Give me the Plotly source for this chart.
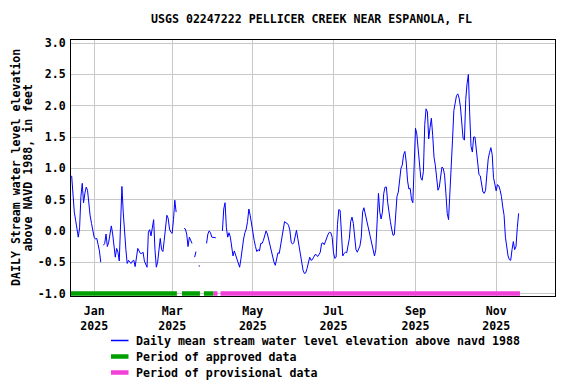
import datetime as dt
import plotly.graph_objects as go

# ---------------- data ----------------
start_date = dt.date(2024, 12, 15)
# daily mean stream water level elevation (ft above NAVD 1988); None = no data
values = [
    # Dec 15 - Dec 31 2024
    0.88, 0.55, 0.30, 0.17, 0.00, -0.10, 0.05, 0.55, 0.76, 0.45, 0.60, 0.70, 0.65, 0.42, 0.24, 0.12, 0.03,
    # Jan 2025
    -0.10, -0.13, -0.12, -0.22, -0.32, -0.50, None, -0.23, -0.20, -0.05, -0.25, -0.18, 0.00, 0.08, -0.05,
    -0.30, -0.42, -0.28, -0.34, -0.48, 0.20, 0.71, 0.30, -0.10, -0.30, -0.52, -0.47, -0.50, -0.52, -0.48,
    -0.47,
    # Feb
    -0.57, -0.40, -0.28, -0.32, -0.36, -0.36, -0.34, -0.48, -0.55, -0.58, -0.02, 0.02, -0.08, 0.10, 0.18,
    -0.30, -0.58, -0.50, -0.30, -0.12, -0.30, -0.33, -0.15, 0.12, 0.25, 0.20, 0.03, -0.02,
    # Mar
    -0.04, 0.18, 0.49, 0.30, None, None, None, None, None, 0.04, 0.03, -0.05, -0.25, -0.10, -0.16, -0.20,
    None, -0.42, -0.33, None, -0.56, -0.56, None, None, None, None, -0.20, -0.05, 0.00, -0.03, -0.10,
    # Apr
    -0.10, -0.11, -0.11, None, None, None, None, 0.00, 0.35, 0.45, 0.05, -0.10, -0.03, -0.10, -0.25,
    -0.40, -0.32, -0.38, -0.47, -0.53, -0.58, -0.45, -0.26, -0.13, -0.03, 0.03, 0.15, 0.35, 0.25, 0.10,
    # May
    -0.06, -0.15, -0.25, -0.33, -0.30, -0.32, -0.20, -0.20, -0.15, -0.05, 0.00, -0.05, -0.15, -0.25,
    -0.31, -0.45, -0.50, -0.55, -0.45, -0.35, -0.36, -0.24, -0.12, 0.04, 0.15, 0.13, 0.12, 0.09, 0.01,
    -0.18, -0.21,
    # Jun
    -0.19, -0.10, 0.01, -0.12, -0.25, -0.39, -0.55, -0.63, -0.68, -0.67, -0.60, -0.52, -0.42, -0.47,
    -0.46, -0.42, -0.38, -0.38, -0.41, -0.38, -0.34, -0.20, -0.19, -0.22, -0.15, -0.08, -0.05, -0.02,
    -0.03, -0.10,
    # Jul
    -0.35, -0.44, -0.42, 0.10, 0.34, 0.33, -0.05, -0.40, -0.36, -0.34, -0.35, -0.25, -0.12, 0.15, 0.22,
    0.12, -0.10, -0.30, -0.34, -0.30, -0.24, -0.10, 0.30, 0.37, 0.28, 0.17, 0.08, 0.00, -0.12, -0.22,
    -0.30,
    # Aug
    -0.40, -0.30, 0.10, 0.60, 0.30, 0.19, 0.30, 0.60, 0.70, 0.70, 0.45, 0.25, 0.15, 0.03, -0.07, -0.06,
    0.30, 0.55, 0.62, 0.85, 1.00, 1.05, 1.22, 1.27, 1.10, 0.80, 0.67, 0.68, 0.50, 0.45, 1.00,
    # Sep
    1.64, 1.55, 1.35, 1.10, 0.85, 0.81, 0.95, 1.70, 1.95, 1.90, 1.47, 1.65, 1.80, 1.53, 1.18, 1.05, 0.83,
    0.65, 0.70, 0.83, 1.02, 1.00, 0.89, 0.60, 0.28, 0.18, 0.55, 0.95, 1.45, 1.92,
    # Oct
    2.03, 2.16, 2.19, 2.12, 1.98, 1.70, 1.48, 1.45, 2.10, 2.35, 2.50, 1.87, 1.35, 1.26, 1.50, 1.50, 1.32,
    1.07, 0.90, 0.88, 0.75, 0.62, 0.60, 0.65, 0.91, 1.15, 1.25, 1.33, 1.22, 0.85, 0.75,
    # Nov
    0.64, 0.74, 0.72, 0.65, 0.55, 0.38, 0.25, -0.10, -0.25, -0.40, -0.46, -0.47, -0.30, -0.17, -0.30,
    -0.25, 0.05, 0.28,
]
dates = [start_date + dt.timedelta(days=i) for i in range(len(values))]

approved_periods = [
    ("2024-12-14 12:00", "2025-03-04 14:00"),
    ("2025-03-08 10:00", "2025-03-22 00:00"),
    ("2025-03-25 00:00", "2025-04-01 07:00"),
]
provisional_periods = [
    ("2025-04-01 07:00", "2025-04-04 07:00"),
    ("2025-04-06 14:00", "2025-11-19 00:00"),
]
period_level = -1.0

month_ticks = ["2025-01-01", "2025-03-01", "2025-05-01", "2025-07-01", "2025-09-01", "2025-11-01"]
month_labels = ["Jan<br>2025", "Mar<br>2025", "May<br>2025", "Jul<br>2025", "Sep<br>2025", "Nov<br>2025"]
y_ticks = [-1.0, -0.5, 0.0, 0.5, 1.0, 1.5, 2.0, 2.5, 3.0]

title_text = "USGS 02247222 PELLICER CREEK NEAR ESPANOLA, FL"
ytitle_lines = ["DAILY Stream water level elevation", "above NAVD 1988, in feet"]
legend_labels = ["Daily mean stream water level elevation above navd 1988",
                 "Period of approved data", "Period of provisional data"]

BLUE = "#0000ff"
GREEN = "#00a000"
MAGENTA = "#f040d8"
FONT = dict(family="DejaVu Sans Mono", size=11.6, color="black", weight="bold")


def period_xy(periods):
    xs, ys = [], []
    for a, b in periods:
        xs += [a, b, None]
        ys += [period_level, period_level, None]
    return xs, ys


fig = go.Figure()
gx, gy = period_xy(approved_periods)
px_, py_ = period_xy(provisional_periods)
fig.add_trace(go.Scatter(x=gx, y=gy, mode="lines", line=dict(color=GREEN, width=4.5),
                         showlegend=False, hoverinfo="skip"))
fig.add_trace(go.Scatter(x=px_, y=py_, mode="lines", line=dict(color=MAGENTA, width=4.5),
                         showlegend=False, hoverinfo="skip"))
fig.add_trace(go.Scatter(x=dates, y=values, mode="lines", line=dict(color=BLUE, width=1),
                         connectgaps=False, showlegend=False))

# page body has an 8px margin; work in window pixels and convert
OFF = 8
W, H = 568, 376
L, T = 71 - OFF, 40 - OFF
R = W - (555 - OFF)
B = H - (296 - OFF)
pw, ph = W - L - R, H - T - B


def pxx(px):
    return (px - OFF - L) / pw


def pxy(py):
    return (H - B - (py - OFF)) / ph


fig.update_layout(
    width=W, height=H,
    margin=dict(l=L, r=R, t=T, b=B),
    paper_bgcolor="white", plot_bgcolor="white",
    showlegend=False,
    font=FONT,
    xaxis=dict(
        type="date",
        range=["2024-12-14 12:00", "2025-12-15 12:00"],
        tickmode="array", tickvals=month_ticks, ticktext=month_labels,
        showgrid=True, gridcolor="#c8c8c8", gridwidth=1,
        showline=True, linecolor="black", linewidth=1, mirror=True,
        ticks="", tickfont=FONT, zeroline=False, ticklabelstandoff=4,
    ),
    yaxis=dict(
        range=[-1.04, 3.05],
        tickmode="array", tickvals=y_ticks, ticktext=[f"{v:.1f}" for v in y_ticks],
        showgrid=True, gridcolor="#c8c8c8", gridwidth=1,
        showline=True, linecolor="black", linewidth=1, mirror=True,
        ticks="", tickfont=FONT, zeroline=False, ticklabelstandoff=2,
    ),
)

annotations = [
    dict(text=title_text, xref="paper", yref="paper", x=pxx(311.5), y=pxy(19),
         xanchor="center", yanchor="middle", showarrow=False, font=FONT),
    dict(text=ytitle_lines[0], xref="paper", yref="paper", x=pxx(16), y=pxy(168),
         xanchor="center", yanchor="middle", showarrow=False, textangle=-90, font=FONT),
    dict(text=ytitle_lines[1], xref="paper", yref="paper", x=pxx(27.5), y=pxy(168),
         xanchor="center", yanchor="middle", showarrow=False, textangle=-90, font=FONT),
]
shapes = []
legend_rows = [340.5, 356.5, 372.5]
legend_styles = [(BLUE, 1.5), (GREEN, 4.5), (MAGENTA, 4.5)]
for (lbl, yrow, (col, lw)) in zip(legend_labels, legend_rows, legend_styles):
    shapes.append(dict(type="line", xref="paper", yref="paper",
                       x0=pxx(111), x1=pxx(128.5), y0=pxy(yrow), y1=pxy(yrow),
                       line=dict(color=col, width=lw)))
    annotations.append(dict(text=lbl, xref="paper", yref="paper", x=pxx(134), y=pxy(yrow),
                            xanchor="left", yanchor="middle", showarrow=False, font=FONT))
fig.update_layout(annotations=annotations, shapes=shapes)

fig.write_html("out.html")
